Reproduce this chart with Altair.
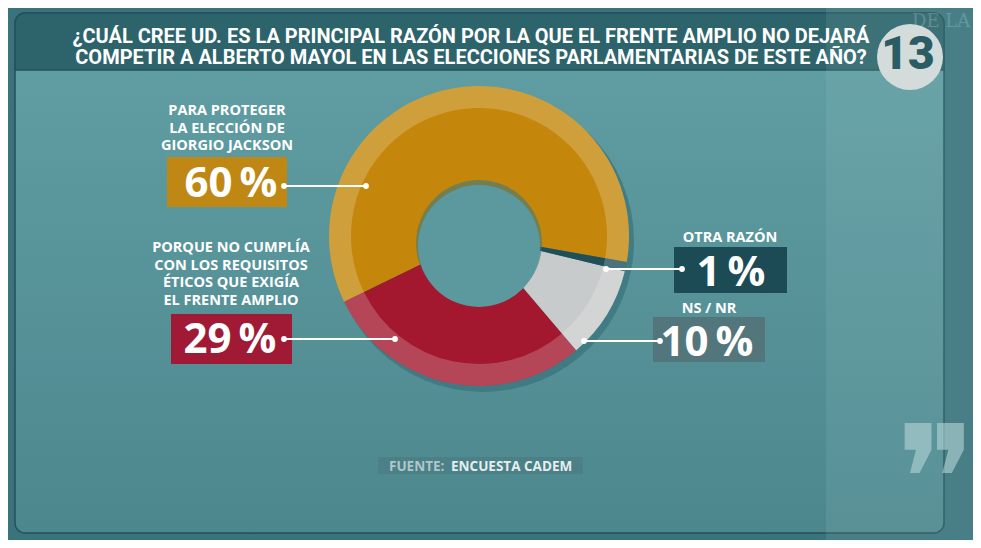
import math
import altair as alt
import pandas as pd

# ---------------- data ----------------
categories = [
    "Para proteger la elección de Giorgio Jackson",
    "Porque no cumplía con los requisitos éticos que exigía el Frente Amplio",
    "NS / NR",
    "Otra razón",
]
values = [60, 29, 10, 1]
stack_order = [4, 3, 2, 1]
pct_labels = ["60\u2009%", "29\u2009%", "10\u2009%", "1\u2009%"]
label_texts = [
    "PARA PROTEGER\nLA ELECCIÓN DE\nGIORGIO JACKSON",
    "PORQUE NO CUMPLÍA\nCON LOS REQUISITOS\nÉTICOS QUE EXIGÍA\nEL FRENTE AMPLIO",
    "NS / NR",
    "OTRA RAZÓN",
]
title_lines = [
    "¿CUÁL CREE UD. ES LA PRINCIPAL RAZÓN POR LA QUE EL FRENTE AMPLIO NO DEJARÁ",
    "COMPETIR A ALBERTO MAYOL EN LAS ELECCIONES PARLAMENTARIAS DE ESTE AÑO?",
]
source_key = "FUENTE:"
source_value = "ENCUESTA CADEM"
logo_text = "13"

# ---------------- styles / layout ----------------
slice_colors = ["#C4870B", "#A3182F", "#C8CBCB", "#1F4F59"]
box_colors = ["#BF8713", "#A01A36", "#52767B", "#1D4B55"]

OFF = 8  # page margin


def P(v):
    return v - OFF


W, H = 965, 532
cx, cy, R, R_RIM = P(479), P(236), 150, 128
hole_x, hole_y, hole_r = P(479), P(246), 61
start = math.radians(100)

# per category: box (x1,x2,y1,y2), pct text (x, baseline), label (x, first baseline), connector (x1,x2,y)
layout = [
    dict(box=(167, 287, 157, 207), pct=(231, 197), lab=(227, 115), con=(284, 366, 186)),
    dict(box=(171, 292, 314, 364), pct=(230, 353), lab=(231, 252), con=(284, 395, 339)),
    dict(box=(653, 765, 317, 362), pct=(707, 356), lab=(709, 313), con=(584, 660, 341)),
    dict(box=(674, 787, 247, 293), pct=(731, 286), lab=(730, 242), con=(606, 682, 269)),
]

df = pd.DataFrame({"cat": categories, "value": values, "ord": stack_order})

boxes = pd.DataFrame({
    "x": [P(l["box"][0]) for l in layout],
    "x2": [P(l["box"][1]) for l in layout],
    "y": [P(l["box"][2]) for l in layout],
    "y2": [P(l["box"][3]) for l in layout],
    "fill": box_colors,
    "pct": pct_labels,
    "px": [P(l["pct"][0]) for l in layout],
    "py": [P(l["pct"][1]) for l in layout],
    "label": label_texts,
    "lx": [P(l["lab"][0]) for l in layout],
    "ly": [P(l["lab"][1]) for l in layout],
    "c1": [P(l["con"][0]) for l in layout],
    "c2": [P(l["con"][1]) for l in layout],
    "cy": [P(l["con"][2]) for l in layout],
})
dots = pd.concat([
    pd.DataFrame({"x": boxes["c1"], "y": boxes["cy"]}),
    pd.DataFrame({"x": boxes["c2"], "y": boxes["cy"]}),
])

one = pd.DataFrame({"a": [0]})
XN = lambda f: alt.X(f, scale=None, axis=None)
YN = lambda f: alt.Y(f, scale=None, axis=None)

# ---------------- background ----------------
page_bg = alt.Chart(one).mark_rect(color="#3A737B").encode(
    x=alt.value(0), x2=alt.value(W), y=alt.value(0), y2=alt.value(H))

frame = alt.Chart(one).mark_rect(
    cornerRadius=10, stroke="#23525A", strokeWidth=1.5,
    fill=alt.Gradient(gradient="linear", x1=0, x2=0, y1=0, y2=1,
                      stops=[alt.GradientStop(color="#62A0A5", offset=0),
                             alt.GradientStop(color="#4C878E", offset=1)]),
).encode(x=alt.value(P(15)), x2=alt.value(P(944)), y=alt.value(P(13)), y2=alt.value(P(533)))

band = alt.Chart(one).mark_rect(
    color="#2D636B", cornerRadiusTopLeft=10, cornerRadiusTopRight=10,
    stroke="#23525A", strokeWidth=1.5,
).encode(x=alt.value(P(15)), x2=alt.value(P(944)), y=alt.value(P(13)), y2=alt.value(P(70)))

side_panel = alt.Chart(one).mark_rect(color="#A9D0D2", opacity=0.13).encode(
    x=alt.value(P(826)), x2=alt.value(W), y=alt.value(0), y2=alt.value(H))

side_head = alt.Chart(one).mark_text(
    text="DE LA", font="DejaVu Serif", fontSize=18, color="#9CC2C4", opacity=0.35,
    align="left", baseline="alphabetic").encode(x=alt.value(P(912)), y=alt.value(P(27)))

quote = alt.Chart(one).mark_text(
    text="\u275E", font="DejaVu Sans", fontSize=150, color="#B5D6D7", opacity=0.6,
    align="center", baseline="middle").encode(x=alt.value(P(936)), y=alt.value(P(487)))

logo_c = alt.Chart(one).mark_arc(radius=33, theta=0, theta2=2 * math.pi, color="#D3DBDB").encode(
    x=alt.value(P(910)), y=alt.value(P(57)))
logo_t = alt.Chart(one).mark_text(
    text=logo_text, font="Roboto", fontWeight=900, fontSize=46, color="#2A5C64",
    align="center", baseline="middle").encode(x=alt.value(P(908)), y=alt.value(P(55)))

title = alt.Chart(one).mark_text(
    text="\n".join(title_lines), lineBreak="\n", lineHeight=21,
    font="Roboto", fontWeight="bold",
    fontSize=20, color="white", align="center", baseline="alphabetic",
).encode(x=alt.value(P(471)), y=alt.value(P(43)))

# ---------------- donut ----------------
shadow = alt.Chart(one).mark_arc(radius=151, theta=0, theta2=2 * math.pi,
                                 color="#3C767E", opacity=0.8).encode(
    x=alt.value(cx + 4), y=alt.value(cy + 5))

theta = alt.Theta("value:Q", stack=True, scale=alt.Scale(range=[start, start + 2 * math.pi]))
pie = alt.Chart(df).mark_arc(radius=R).encode(
    theta=theta,
    color=alt.Color("cat:N", scale=alt.Scale(domain=categories, range=slice_colors), legend=None),
    order=alt.Order("ord:Q"),
    x=alt.value(cx), y=alt.value(cy),
)
rim = alt.Chart(df).mark_arc(radius=R, radius2=R_RIM, color="white", opacity=0.2).encode(
    theta=theta, order=alt.Order("ord:Q"), x=alt.value(cx), y=alt.value(cy))

hole_shadow = alt.Chart(one).mark_arc(radius=hole_r + 2, theta=0, theta2=2 * math.pi,
                                      color="#3F7A81", opacity=0.6).encode(
    x=alt.value(hole_x), y=alt.value(hole_y - 3))
hole = alt.Chart(one).mark_arc(radius=hole_r, theta=0, theta2=2 * math.pi, color="#5C999E").encode(
    x=alt.value(hole_x), y=alt.value(hole_y))

# ---------------- annotations ----------------
box_layer = alt.Chart(boxes).mark_rect().encode(
    x=XN("x:Q"), x2="x2:Q", y=YN("y:Q"), y2="y2:Q", color=alt.Color("fill:N", scale=None))

pct_layer = alt.Chart(boxes).mark_text(
    font="Open Sans", fontWeight="bold", fontSize=42, color="white",
    align="center", baseline="alphabetic").encode(x=XN("px:Q"), y=YN("py:Q"), text="pct:N")

label_layer = alt.Chart(boxes).mark_text(
    font="Open Sans", fontWeight="bold", fontSize=14.5, color="white", lineBreak="\n",
    lineHeight=17.5, align="center", baseline="alphabetic").encode(
    x=XN("lx:Q"), y=YN("ly:Q"), text="label:N")

con_layer = alt.Chart(boxes).mark_rule(color="white", strokeWidth=2).encode(
    x=XN("c1:Q"), x2="c2:Q", y=YN("cy:Q"))
dot_layer = alt.Chart(dots).mark_circle(color="white", opacity=1, size=34).encode(
    x=XN("x:Q"), y=YN("y:Q"))

src_box = alt.Chart(one).mark_rect(color="#4A7E85", opacity=0.85).encode(
    x=alt.value(P(378)), x2=alt.value(P(583)), y=alt.value(P(457)), y2=alt.value(P(474)))
src_k = alt.Chart(one).mark_text(
    text=source_key, font="Open Sans", fontWeight="bold", fontSize=13.5, color="#AFC7CA",
    align="left", baseline="alphabetic").encode(x=alt.value(P(389)), y=alt.value(P(471)))
src_v = alt.Chart(one).mark_text(
    text=source_value, font="Open Sans", fontWeight="bold", fontSize=13.5, color="#E4EDEE",
    align="left", baseline="alphabetic").encode(x=alt.value(P(451)), y=alt.value(P(471)))

chart = alt.layer(
    page_bg, frame, band, side_panel, side_head, quote, title, logo_c, logo_t,
    shadow, pie, rim, hole_shadow, hole,
    box_layer, pct_layer, label_layer, con_layer, dot_layer,
    src_box, src_k, src_v,
).properties(width=W, height=H, padding=0, autosize="none").configure_view(stroke=None)

chart.save("out.html", embed_options={"renderer": "svg", "actions": False})
